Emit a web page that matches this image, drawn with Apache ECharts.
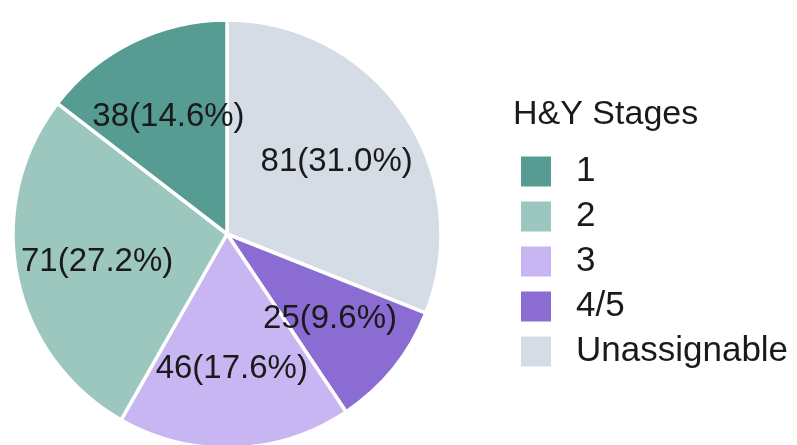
<!DOCTYPE html>
<html>
<head>
<meta charset="utf-8">
<script src="https://cdn.jsdelivr.net/npm/echarts@6/dist/echarts.min.js"></script>
<style>
  html, body { margin: 0; padding: 0; background: #fff; }
  #chart { width: 797px; height: 445px; }
</style>
</head>
<body>
<div id="chart"></div>
<script>
// stages in legend order
const stages = ['1', '2', '3', '4/5', 'Unassignable'];
const counts = [38, 71, 46, 25, 81];
const colors = ['#579c93', '#9bc7bf', '#c8b6f3', '#8a6cd3', '#d6dce6'];
// pie is drawn clockwise from 12 o'clock in this order
const pieOrder = ['Unassignable', '4/5', '3', '2', '1'];

const pieData = pieOrder.map(name => {
  const i = stages.indexOf(name);
  return { name: name, value: counts[i], itemStyle: { color: colors[i] } };
});

const font = '"Liberation Sans", Arial, sans-serif';

const chart = echarts.init(document.getElementById('chart'));
chart.setOption({
  animation: false,
  title: {
    text: 'H&Y Stages',
    left: 513,
    top: 98,
    padding: 0,
    textStyle: { fontFamily: font, fontSize: 34, fontWeight: 'normal', color: '#1a1a1a' }
  },
  legend: {
    data: stages,
    orient: 'vertical',
    left: 519,
    top: 154,
    padding: 0,
    icon: 'rect',
    itemWidth: 32,
    itemHeight: 32,
    itemGap: 10,
    selectedMode: false,
    textStyle: { fontFamily: font, fontSize: 35, color: '#1a1a1a', padding: [0, 0, 0, 19] }
  },
  series: [
    {
      type: 'pie',
      center: [227, 234],
      radius: 214,
      startAngle: 90,
      clockwise: true,
      silent: true,
      itemStyle: { borderColor: '#fff', borderWidth: 3.5 },
      label: { show: false },
      labelLine: { show: false },
      data: pieData
    },
    {
      // labels only, placed a bit further out than the default inner spot
      type: 'pie',
      center: [227, 236],
      radius: [46, 213],
      startAngle: 90,
      clockwise: true,
      silent: true,
      itemStyle: { color: 'rgba(0,0,0,0)' },
      label: {
        show: true,
        position: 'inside',
        fontFamily: font,
        fontSize: 33,
        color: '#1a1a1a',
        formatter: p => p.value + '(' + p.percent.toFixed(1) + '%)'
      },
      labelLine: { show: false },
      data: pieData.map(d => ({ name: d.name, value: d.value }))
    }
  ]
});
</script>
</body>
</html>
